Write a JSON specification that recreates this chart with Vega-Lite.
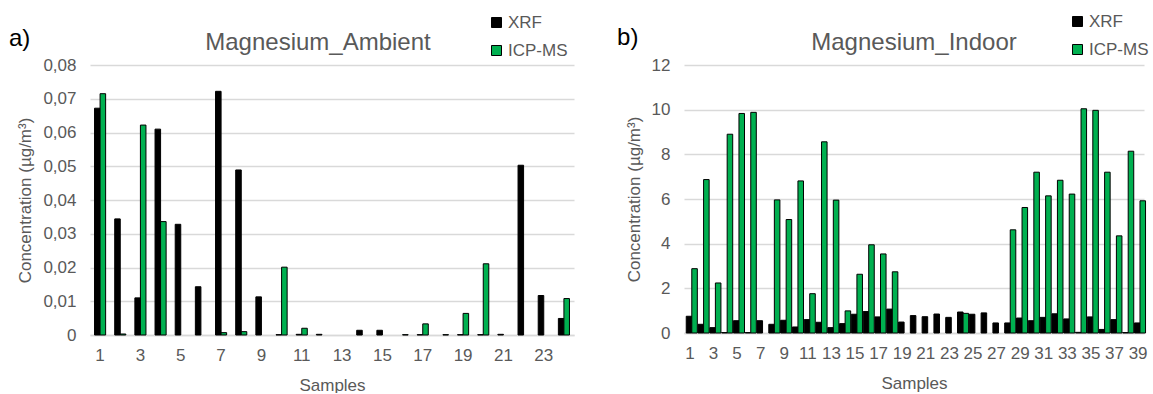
{
  "$schema": "https://vega.github.io/schema/vega-lite/v6.json",
  "background": "white",
  "padding": {"left": 8, "top": 13, "right": 0, "bottom": 0},
  "config": {
    "font": "Liberation Sans",
    "view": {"stroke": null},
    "axis": {"labelColor": "#595959", "titleColor": "#595959", "labelFontSize": 17, "titleFontSize": 17, "titleFontWeight": "normal", "gridColor": "#d9d9d9", "gridWidth": 1.5, "ticks": false, "domain": false},
    "title": {"color": "#595959", "fontSize": 24, "fontWeight": "normal"},
    "legend": {"symbolType": "square", "symbolSize": 100, "symbolStrokeColor": "#000000", "symbolStrokeWidth": 1, "labelFontSize": 17, "labelColor": "#595959", "labelOffset": 3, "rowPadding": 10}
  },
  "resolve": {"legend": {"color": "independent"}},
  "datasets": {
    "ambient": [
      {"Sample": 1, "Series": "XRF", "value": 0.0672}, {"Sample": 1, "Series": "ICP-MS", "value": 0.0715},
      {"Sample": 2, "Series": "XRF", "value": 0.0344}, {"Sample": 2, "Series": "ICP-MS", "value": 0.0003},
      {"Sample": 3, "Series": "XRF", "value": 0.011}, {"Sample": 3, "Series": "ICP-MS", "value": 0.0622},
      {"Sample": 4, "Series": "XRF", "value": 0.061}, {"Sample": 4, "Series": "ICP-MS", "value": 0.0336},
      {"Sample": 5, "Series": "XRF", "value": 0.0328},
      {"Sample": 6, "Series": "XRF", "value": 0.0143},
      {"Sample": 7, "Series": "XRF", "value": 0.0722}, {"Sample": 7, "Series": "ICP-MS", "value": 0.0007},
      {"Sample": 8, "Series": "XRF", "value": 0.0489}, {"Sample": 8, "Series": "ICP-MS", "value": 0.001},
      {"Sample": 9, "Series": "XRF", "value": 0.0113},
      {"Sample": 10, "Series": "XRF", "value": 0.0001}, {"Sample": 10, "Series": "ICP-MS", "value": 0.0201},
      {"Sample": 11, "Series": "XRF", "value": 0.0002}, {"Sample": 11, "Series": "ICP-MS", "value": 0.002},
      {"Sample": 12, "Series": "XRF", "value": 0.0002},
      {"Sample": 14, "Series": "XRF", "value": 0.0014},
      {"Sample": 15, "Series": "XRF", "value": 0.0014},
      {"Sample": 16, "Series": "ICP-MS", "value": 0.0001},
      {"Sample": 17, "Series": "XRF", "value": 0.0001}, {"Sample": 17, "Series": "ICP-MS", "value": 0.0033},
      {"Sample": 18, "Series": "ICP-MS", "value": 0.0001},
      {"Sample": 19, "Series": "XRF", "value": 0.0001}, {"Sample": 19, "Series": "ICP-MS", "value": 0.0064},
      {"Sample": 20, "Series": "XRF", "value": 0.0001}, {"Sample": 20, "Series": "ICP-MS", "value": 0.0211},
      {"Sample": 21, "Series": "XRF", "value": 0.0002},
      {"Sample": 22, "Series": "XRF", "value": 0.0503},
      {"Sample": 23, "Series": "XRF", "value": 0.0117},
      {"Sample": 24, "Series": "XRF", "value": 0.0049}, {"Sample": 24, "Series": "ICP-MS", "value": 0.0108}
    ],
    "indoor": [
      {"Sample": 1, "Series": "XRF", "value": 0.75}, {"Sample": 1, "Series": "ICP-MS", "value": 2.88},
      {"Sample": 2, "Series": "XRF", "value": 0.39}, {"Sample": 2, "Series": "ICP-MS", "value": 6.87},
      {"Sample": 3, "Series": "XRF", "value": 0.24}, {"Sample": 3, "Series": "ICP-MS", "value": 2.24},
      {"Sample": 4, "Series": "XRF", "value": 0.02}, {"Sample": 4, "Series": "ICP-MS", "value": 8.9},
      {"Sample": 5, "Series": "XRF", "value": 0.55}, {"Sample": 5, "Series": "ICP-MS", "value": 9.83},
      {"Sample": 6, "Series": "XRF", "value": 0.02}, {"Sample": 6, "Series": "ICP-MS", "value": 9.88},
      {"Sample": 7, "Series": "XRF", "value": 0.55},
      {"Sample": 8, "Series": "XRF", "value": 0.39}, {"Sample": 8, "Series": "ICP-MS", "value": 5.96},
      {"Sample": 9, "Series": "XRF", "value": 0.57}, {"Sample": 9, "Series": "ICP-MS", "value": 5.08},
      {"Sample": 10, "Series": "XRF", "value": 0.27}, {"Sample": 10, "Series": "ICP-MS", "value": 6.81},
      {"Sample": 11, "Series": "XRF", "value": 0.6}, {"Sample": 11, "Series": "ICP-MS", "value": 1.76},
      {"Sample": 12, "Series": "XRF", "value": 0.48}, {"Sample": 12, "Series": "ICP-MS", "value": 8.56},
      {"Sample": 13, "Series": "XRF", "value": 0.24}, {"Sample": 13, "Series": "ICP-MS", "value": 5.95},
      {"Sample": 14, "Series": "XRF", "value": 0.42}, {"Sample": 14, "Series": "ICP-MS", "value": 0.99},
      {"Sample": 15, "Series": "XRF", "value": 0.84}, {"Sample": 15, "Series": "ICP-MS", "value": 2.63},
      {"Sample": 16, "Series": "XRF", "value": 0.96}, {"Sample": 16, "Series": "ICP-MS", "value": 3.95},
      {"Sample": 17, "Series": "XRF", "value": 0.72}, {"Sample": 17, "Series": "ICP-MS", "value": 3.54},
      {"Sample": 18, "Series": "XRF", "value": 1.07}, {"Sample": 18, "Series": "ICP-MS", "value": 2.74},
      {"Sample": 19, "Series": "XRF", "value": 0.49},
      {"Sample": 20, "Series": "XRF", "value": 0.78},
      {"Sample": 21, "Series": "XRF", "value": 0.73},
      {"Sample": 22, "Series": "XRF", "value": 0.85},
      {"Sample": 23, "Series": "XRF", "value": 0.7},
      {"Sample": 24, "Series": "XRF", "value": 0.94}, {"Sample": 24, "Series": "ICP-MS", "value": 0.88},
      {"Sample": 25, "Series": "XRF", "value": 0.84},
      {"Sample": 26, "Series": "XRF", "value": 0.9},
      {"Sample": 27, "Series": "XRF", "value": 0.45},
      {"Sample": 28, "Series": "XRF", "value": 0.45}, {"Sample": 28, "Series": "ICP-MS", "value": 4.62},
      {"Sample": 29, "Series": "XRF", "value": 0.67}, {"Sample": 29, "Series": "ICP-MS", "value": 5.62},
      {"Sample": 30, "Series": "XRF", "value": 0.55}, {"Sample": 30, "Series": "ICP-MS", "value": 7.2},
      {"Sample": 31, "Series": "XRF", "value": 0.7}, {"Sample": 31, "Series": "ICP-MS", "value": 6.14},
      {"Sample": 32, "Series": "XRF", "value": 0.86}, {"Sample": 32, "Series": "ICP-MS", "value": 6.84},
      {"Sample": 33, "Series": "XRF", "value": 0.63}, {"Sample": 33, "Series": "ICP-MS", "value": 6.22},
      {"Sample": 34, "Series": "XRF", "value": 0.03}, {"Sample": 34, "Series": "ICP-MS", "value": 10.04},
      {"Sample": 35, "Series": "XRF", "value": 0.72}, {"Sample": 35, "Series": "ICP-MS", "value": 9.97},
      {"Sample": 36, "Series": "XRF", "value": 0.16}, {"Sample": 36, "Series": "ICP-MS", "value": 7.2},
      {"Sample": 37, "Series": "XRF", "value": 0.6}, {"Sample": 37, "Series": "ICP-MS", "value": 4.35},
      {"Sample": 38, "Series": "XRF", "value": 0.02}, {"Sample": 38, "Series": "ICP-MS", "value": 8.14},
      {"Sample": 39, "Series": "XRF", "value": 0.45}, {"Sample": 39, "Series": "ICP-MS", "value": 5.92}
    ]
  },
  "spacing": 43,
  "hconcat": [
    {
      "title": {"text": "a)", "anchor": "start", "fontSize": 24, "color": "#000000", "offset": -37, "dx": -8},
      "vconcat": [
        {
          "width": 484, "height": 270,
          "title": {"text": "Magnesium_Ambient", "offset": 1, "dx": -14},
          "data": {"name": "ambient"},
          "mark": {"type": "bar", "stroke": "#000000", "strokeWidth": 1},
          "encoding": {
            "x": {"field": "Sample", "type": "ordinal",
              "scale": {"domain": [1,2,3,4,5,6,7,8,9,10,11,12,13,14,15,16,17,18,19,20,21,22,23,24], "paddingInner": 0.45, "paddingOuter": 0.225},
              "axis": {"values": [1,3,5,7,9,11,13,15,17,19,21,23], "labelAngle": 0, "labelPadding": 12, "title": "Samples", "titlePadding": 14, "domain": true, "domainColor": "#d9d9d9", "domainWidth": 1.5}},
            "xOffset": {"field": "Series", "type": "nominal", "scale": {"domain": ["XRF", "ICP-MS"]}},
            "y": {"field": "value", "type": "quantitative", "scale": {"domain": [0, 0.08]},
              "axis": {"values": [0, 0.01, 0.02, 0.03, 0.04, 0.05, 0.06, 0.07, 0.08], "labelExpr": "datum.value == 0 ? '0' : replace(format(datum.value, '.2f'), '.', ',')", "title": "Concentration (µg/m³)", "labelPadding": 14, "titlePadding": 8}},
            "color": {"field": "Series", "type": "nominal", "scale": {"domain": ["XRF", "ICP-MS"], "range": ["#000000", "#00B050"]},
              "legend": {"orient": "none", "legendX": 398, "legendY": -51, "title": null}}
          }
        }
      ]
    },
    {
      "title": {"text": "b)", "anchor": "start", "fontSize": 24, "color": "#000000", "offset": -37, "dx": -8},
      "vconcat": [
        {
          "width": 460, "height": 268,
          "title": {"text": "Magnesium_Indoor", "offset": 1},
          "data": {"name": "indoor"},
          "mark": {"type": "bar", "stroke": "#000000", "strokeWidth": 1},
          "encoding": {
            "x": {"field": "Sample", "type": "ordinal",
              "scale": {"domain": [1,2,3,4,5,6,7,8,9,10,11,12,13,14,15,16,17,18,19,20,21,22,23,24,25,26,27,28,29,30,31,32,33,34,35,36,37,38,39], "paddingInner": 0.38, "paddingOuter": 0.19},
              "axis": {"values": [1,3,5,7,9,11,13,15,17,19,21,23,25,27,29,31,33,35,37,39], "labelAngle": 0, "labelPadding": 12, "labelOverlap": false, "title": "Samples", "titlePadding": 14, "domain": true, "domainColor": "#d9d9d9", "domainWidth": 1.5}},
            "xOffset": {"field": "Series", "type": "nominal", "scale": {"domain": ["XRF", "ICP-MS"]}},
            "y": {"field": "value", "type": "quantitative", "scale": {"domain": [0, 12]},
              "axis": {"values": [0, 2, 4, 6, 8, 10, 12], "title": "Concentration (µg/m³)", "labelPadding": 14, "titlePadding": 8}},
            "color": {"field": "Series", "type": "nominal", "scale": {"domain": ["XRF", "ICP-MS"], "range": ["#000000", "#00B050"]},
              "legend": {"orient": "none", "legendX": 385, "legendY": -52, "title": null}}
          }
        }
      ]
    }
  ]
}
